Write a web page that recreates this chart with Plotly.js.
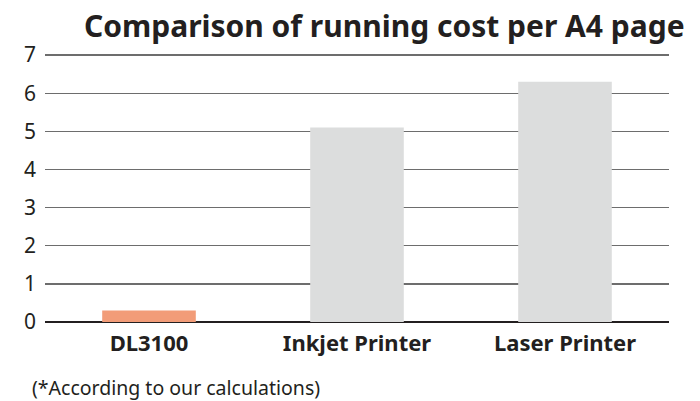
<!DOCTYPE html>
<html><head><meta charset="utf-8">
<script src="https://cdn.plot.ly/plotly-3.0.1.min.js"></script>
<style>html,body{margin:0;padding:0;background:#fff}</style>
</head><body>
<div id="chart" style="width:700px;height:401px"></div>
<script>
const categories = ["DL3100", "Inkjet Printer", "Laser Printer"];
const costs = [0.3, 5.1, 6.3];
const barColors = ["#F29C78", "#DCDDDD", "#DCDDDD"];
const yTicks = [0, 1, 2, 3, 4, 5, 6, 7];

const FONT = "'Noto Sans', 'Open Sans', sans-serif";

const trace = {
  type: "bar",
  x: categories,
  y: costs,
  marker: {color: barColors, line: {width: 0}},
  width: 0.45,
  hoverinfo: "skip"
};

const layout = {
  width: 700, height: 401,
  margin: {l: 45, r: 31, t: 53, b: 79},
  paper_bgcolor: "#fff", plot_bgcolor: "#fff",
  showlegend: false,
  font: {family: FONT, color: "#231F20"},
  title: {
    text: "<b>Comparison of running cost per A4 page</b>",
    font: {size: 30, color: "#231F20", family: FONT},
    x: 0.549, xanchor: "center", xref: "container",
    y: 0.935, yanchor: "middle", yref: "container"
  },
  xaxis: {
    type: "category",
    showgrid: false, zeroline: false, showline: false,
    ticks: "",
    tickfont: {size: 22, color: "#231F20", family: FONT},
    tickprefix: "<b>", ticksuffix: "</b>",
    ticklabelstandoff: 6
  },
  yaxis: {
    range: [0, 7.055],
    tickvals: yTicks,
    showgrid: true, gridcolor: "#6d6d6d", gridwidth: 1.3,
    zeroline: true, zerolinecolor: "#231F20", zerolinewidth: 1.3,
    showline: false, ticks: "",
    tickfont: {size: 21, color: "#231F20", family: FONT},
    ticklabelstandoff: 8
  },
  annotations: [{
    text: "(*According to our calculations)",
    xref: "paper", yref: "paper",
    x: -0.024, xanchor: "left",
    y: -0.245, yanchor: "middle",
    showarrow: false,
    font: {size: 19.5, color: "#231F20", family: FONT}
  }]
};

Plotly.newPlot("chart", [trace], layout, {displayModeBar: false, staticPlot: true});
</script>
</body></html>
